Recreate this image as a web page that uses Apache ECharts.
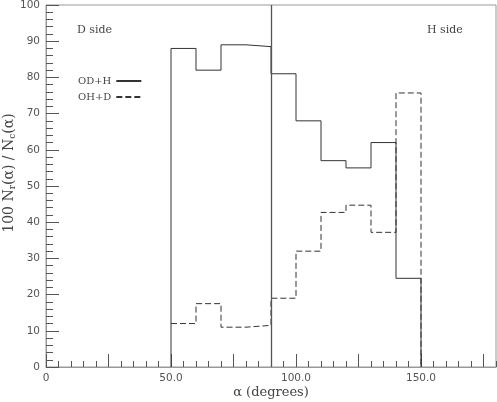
<!DOCTYPE html>
<html>
<head>
<meta charset="utf-8">
<script src="https://cdn.jsdelivr.net/npm/echarts@6/dist/echarts.min.js"></script>
<style>
  html, body { margin: 0; padding: 0; background: #fff; }
  #chart { width: 497px; height: 402px; }
</style>
</head>
<body>
<div id="chart"></div>
<script>
// bin edges in degrees (10 degree bins, 50..150)
const binEdges = [50, 60, 70, 80, 90, 100, 110, 120, 130, 140, 150]
// 100 Nr/Nc per bin
const odh = [88, 82, 89, 88.5, 81, 68, 57, 55, 62, 24.5]
const ohd = [12, 17.5, 11, 11.5, 19, 32, 42.7, 44.7, 37.2, 75.7]
const xLabelValues = [0, 50, 100, 150]
const xMajorTicks = [0, 25, 50, 75, 100, 125, 150, 175]
const dividerX = 90

const serif = '"DejaVu Serif", "Liberation Serif", serif'
const sans = '"DejaVu Sans", sans-serif'

// turn bins into a step outline
function steps (vals, closeStart) {
  const pts = []
  if (closeStart) pts.push([binEdges[0], 0])
  vals.forEach((v, i) => {
    pts.push([binEdges[i], v])
    pts.push([binEdges[i + 1], v])
  })
  pts.push([binEdges[binEdges.length - 1], 0])
  return pts
}

const chart = echarts.init(document.getElementById('chart'))

const options = {
  animation: false,
  grid: {
    left: 46, right: 1, top: 5, bottom: 35,
    outerBoundsMode: 'none',
    show: true, borderColor: '#999', borderWidth: 1
  },
  legend: {
    orient: 'vertical',
    left: 73, top: 71,
    align: 'right',
    itemWidth: 25, itemHeight: 10, itemGap: 6,
    data: ['OD+H', 'OH+D'],
    itemStyle: { color: 'rgba(0,0,0,0)', borderWidth: 0, opacity: 0 },
    textStyle: { fontFamily: serif, fontSize: 10, color: '#444' }
  },
  xAxis: [
    {
      type: 'value', min: 0, max: 180,
      name: 'α (degrees)', nameLocation: 'middle', nameGap: 19,
      nameMoveOverlap: false,
      nameTextStyle: { fontFamily: serif, fontSize: 13, color: '#444' },
      axisLine: { show: true, lineStyle: { color: '#999' } },
      splitLine: { show: false },
      axisTick: { inside: true, length: 13, customValues: xMajorTicks, lineStyle: { color: '#555' } },
      axisLabel: {
        customValues: xLabelValues, margin: 6,
        fontFamily: sans, fontSize: 10.5, color: '#555',
        formatter: v => v === 0 ? '0' : v.toFixed(1)
      }
    },
    {
      type: 'value', min: 0, max: 180, interval: 5, position: 'bottom',
      axisLine: { show: false },
      splitLine: { show: false },
      axisTick: { inside: true, length: 6, lineStyle: { color: '#555' } },
      axisLabel: { show: false }
    }
  ],
  yAxis: {
    type: 'value', min: 0, max: 100, interval: 10,
    name: '100 N{sub|r}(α) / N{sub|c}(α)',
    nameLocation: 'middle', nameRotate: 90, nameGap: 29,
    nameMoveOverlap: false,
    nameTextStyle: {
      fontFamily: serif, fontSize: 14, color: '#444',
      padding: [0, 0, 0, 26],
      rich: {
        sub: { fontFamily: serif, fontSize: 9, color: '#444', verticalAlign: 'bottom', padding: [6, 0, 0, 0] }
      }
    },
    axisLine: { show: true, lineStyle: { color: '#999' } },
    splitLine: { show: false },
    axisTick: { inside: true, length: 13, lineStyle: { color: '#555' } },
    minorTick: { show: true, splitNumber: 5, length: 7, lineStyle: { color: '#555' } },
    axisLabel: { fontFamily: sans, fontSize: 10.5, color: '#555', margin: 6 }
  },
  series: [
    {
      name: 'OD+H', type: 'line', symbol: 'none',
      data: steps(odh, true),
      lineStyle: { color: '#333', width: 1, type: 'solid' },
      itemStyle: { color: '#333' },
      markLine: {
        symbol: 'none', silent: true, label: { show: false },
        lineStyle: { color: '#555', width: 1.3, type: 'solid' },
        data: [{ xAxis: dividerX }]
      }
    },
    {
      name: 'OH+D', type: 'line', symbol: 'none',
      data: steps(ohd, false),
      lineStyle: { color: '#333', width: 1, type: [6, 3] },
      itemStyle: { color: '#333' }
    }
  ],
  graphic: [
    { type: 'text', left: 77, top: 25, style: { text: 'D side', font: '11px ' + serif, fill: '#444' } },
    { type: 'text', left: 427, top: 25, style: { text: 'H side', font: '11px ' + serif, fill: '#444' } }
  ]
}

chart.setOption(options)
</script>
</body>
</html>
